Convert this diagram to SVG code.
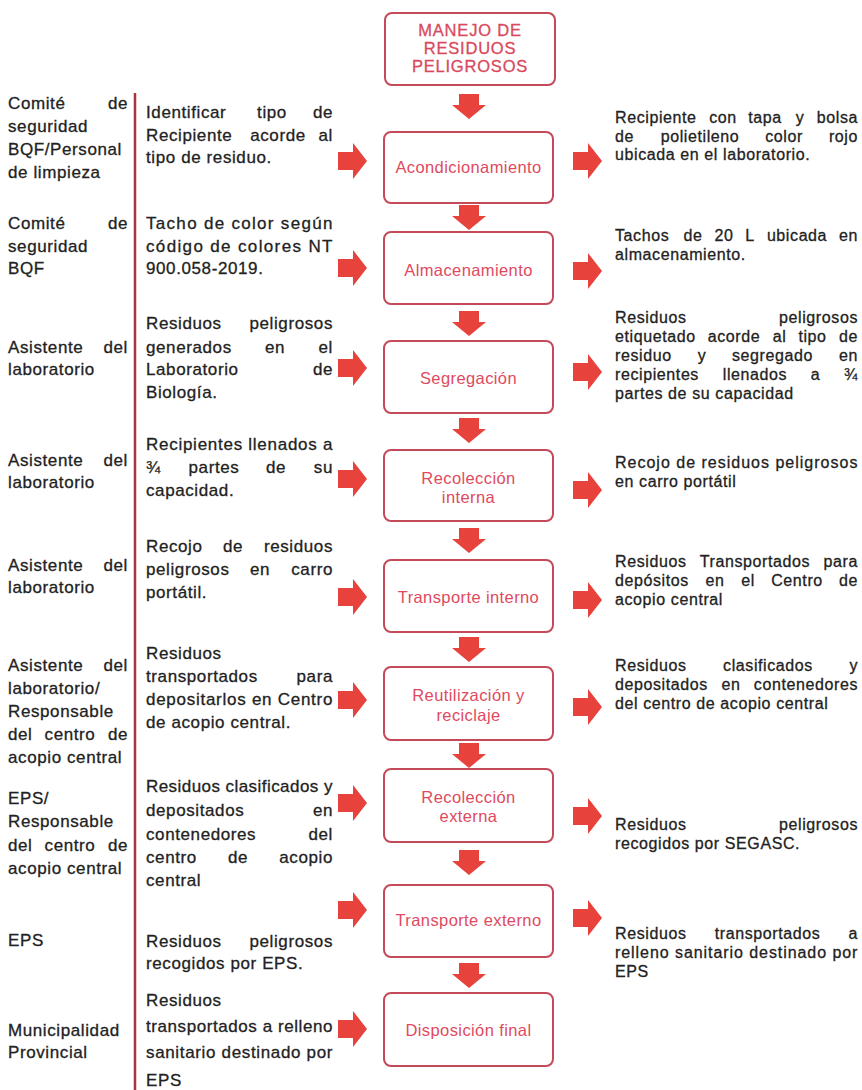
<svg xmlns="http://www.w3.org/2000/svg" xmlns:xlink="http://www.w3.org/1999/xlink" width="862" height="1090" viewBox="0 0 862 1090">
  <style>
    .box { fill: #ffffff; stroke: #c44a5a; stroke-width: 2; }
    .lbl { font-family: 'Liberation Sans', Arial, sans-serif; font-size: 16.5px; fill: #e04a5e; text-anchor: middle; letter-spacing: 0.4px; }
    .ttl { font-family: 'Liberation Sans', Arial, sans-serif; font-size: 16.5px; fill: #d9485c; text-anchor: middle; letter-spacing: 0.8px; stroke: #d9485c; stroke-width: 0.3px; }
    .t { font-family: 'Liberation Sans', Arial, sans-serif; font-size: 17px; fill: #222222; letter-spacing: 0.6px; stroke: #222222; stroke-width: 0.3px; }
    .r { font-family: 'Liberation Sans', Arial, sans-serif; font-size: 16px; fill: #222222; letter-spacing: 0.6px; stroke: #222222; stroke-width: 0.3px; }
    .e { text-anchor: end; }
    .m { text-anchor: middle; }
    .arr { fill: #e8423c; }
    .div { stroke: #a8323f; stroke-width: 2.5; }
  </style>
  <defs>
    <!-- block arrow pointing right, origin at tail centre -->
    <path id="ah" d="M0,-9 H15 V-18 L29,0 L15,18 V9 H0 Z"/>
    <!-- block arrow pointing down, origin at tail centre -->
    <path id="av" d="M-10,0 H10 V11 H17 L0,25 L-17,11 H-10 Z"/>
  </defs>

  <rect width="862" height="1090" fill="#ffffff"/>

  <!-- column divider -->
  <line class="div" x1="135" y1="93" x2="135" y2="1090"/>

  <!-- process nodes -->
  <g id="node-manejo">
    <rect class="box" x="385" y="13" width="170" height="72" rx="7"/>
    <text class="ttl" x="470" y="36">MANEJO DE</text>
    <text class="ttl" x="470" y="54">RESIDUOS</text>
    <text class="ttl" x="470" y="72">PELIGROSOS</text>
  </g>
  <g id="node-acondicionamiento">
    <rect class="box" x="384" y="132" width="169" height="71" rx="7"/>
    <text class="lbl" x="468.5" y="173">Acondicionamiento</text>
  </g>
  <g id="node-almacenamiento">
    <rect class="box" x="384" y="232" width="169" height="72" rx="7"/>
    <text class="lbl" x="468.5" y="276">Almacenamiento</text>
  </g>
  <g id="node-segregacion">
    <rect class="box" x="384" y="341" width="169" height="72" rx="7"/>
    <text class="lbl" x="468.5" y="384">Segregación</text>
  </g>
  <g id="node-recoleccion-interna">
    <rect class="box" x="384" y="450" width="169" height="71" rx="7"/>
    <text class="lbl" x="468.5" y="484">Recolección</text>
    <text class="lbl" x="468.5" y="503">interna</text>
  </g>
  <g id="node-transporte-interno">
    <rect class="box" x="384" y="560" width="169" height="72" rx="7"/>
    <text class="lbl" x="468.5" y="603">Transporte interno</text>
  </g>
  <g id="node-reutilizacion">
    <rect class="box" x="384" y="667" width="169" height="73" rx="7"/>
    <text class="lbl" x="468.5" y="701">Reutilización y</text>
    <text class="lbl" x="468.5" y="721">reciclaje</text>
  </g>
  <g id="node-recoleccion-externa">
    <rect class="box" x="384" y="769" width="169" height="73" rx="7"/>
    <text class="lbl" x="468.5" y="803">Recolección</text>
    <text class="lbl" x="468.5" y="822">externa</text>
  </g>
  <g id="node-transporte-externo">
    <rect class="box" x="384" y="885" width="169" height="72" rx="7"/>
    <text class="lbl" x="468.5" y="926">Transporte externo</text>
  </g>
  <g id="node-disposicion-final">
    <rect class="box" x="384" y="993" width="169" height="73" rx="7"/>
    <text class="lbl" x="468.5" y="1036">Disposición final</text>
  </g>

  <!-- connectors -->
  <g id="connectors" class="arr">
    <use xlink:href="#av" x="469" y="94"/>
    <use xlink:href="#av" x="469" y="205"/>
    <use xlink:href="#av" x="469" y="311"/>
    <use xlink:href="#av" x="469" y="418"/>
    <use xlink:href="#av" x="469" y="528"/>
    <use xlink:href="#av" x="469" y="637"/>
    <use xlink:href="#av" x="469" y="743"/>
    <use xlink:href="#av" x="469" y="850"/>
    <use xlink:href="#av" x="469" y="963"/>

    <use xlink:href="#ah" x="338" y="161"/>
    <use xlink:href="#ah" x="338" y="268"/>
    <use xlink:href="#ah" x="338" y="368"/>
    <use xlink:href="#ah" x="338" y="479"/>
    <use xlink:href="#ah" x="338" y="597"/>
    <use xlink:href="#ah" x="338" y="700"/>
    <use xlink:href="#ah" x="338" y="803"/>
    <use xlink:href="#ah" x="338" y="910"/>
    <use xlink:href="#ah" x="338" y="1029"/>

    <use xlink:href="#ah" x="573" y="161"/>
    <use xlink:href="#ah" x="573" y="271"/>
    <use xlink:href="#ah" x="573" y="372"/>
    <use xlink:href="#ah" x="573" y="490"/>
    <use xlink:href="#ah" x="573" y="600"/>
    <use xlink:href="#ah" x="573" y="707"/>
    <use xlink:href="#ah" x="573" y="816"/>
    <use xlink:href="#ah" x="573" y="918"/>
  </g>

  <!-- responsible parties -->
  <g id="responsables">
    <text class="t" x="8" y="109">Comité</text><text class="t e" x="128" y="109">de</text>
    <text class="t" x="8" y="132">seguridad</text>
    <text class="t" x="8" y="155">BQF/Personal</text>
    <text class="t" x="8" y="178">de limpieza</text>

    <text class="t" x="8" y="229">Comité</text><text class="t e" x="128" y="229">de</text>
    <text class="t" x="8" y="252">seguridad</text>
    <text class="t" x="8" y="274">BQF</text>

    <text class="t" x="8" y="353">Asistente</text><text class="t e" x="128" y="353">del</text>
    <text class="t" x="8" y="375">laboratorio</text>

    <text class="t" x="8" y="466">Asistente</text><text class="t e" x="128" y="466">del</text>
    <text class="t" x="8" y="488">laboratorio</text>

    <text class="t" x="8" y="571">Asistente</text><text class="t e" x="128" y="571">del</text>
    <text class="t" x="8" y="593">laboratorio</text>

    <text class="t" x="8" y="671">Asistente</text><text class="t e" x="128" y="671">del</text>
    <text class="t" x="8" y="694">laboratorio/</text>
    <text class="t" x="8" y="717">Responsable</text>
    <text class="t" x="8" y="740">del</text><text class="t m" x="70" y="740">centro</text><text class="t e" x="128" y="740">de</text>
    <text class="t" x="8" y="763">acopio central</text>

    <text class="t" x="8" y="804">EPS/</text>
    <text class="t" x="8" y="827">Responsable</text>
    <text class="t" x="8" y="851">del</text><text class="t m" x="70" y="851">centro</text><text class="t e" x="128" y="851">de</text>
    <text class="t" x="8" y="874">acopio central</text>

    <text class="t" x="8" y="946">EPS</text>

    <text class="t" x="8" y="1036">Municipalidad</text>
    <text class="t" x="8" y="1058">Provincial</text>
  </g>

  <!-- activities -->
  <g id="actividades">
    <text class="t" x="146" y="118">Identificar</text><text class="t m" x="272" y="118">tipo</text><text class="t e" x="333" y="118">de</text>
    <text class="t" x="146" y="141">Recipiente</text><text class="t m" x="278" y="141">acorde</text><text class="t e" x="333" y="141">al</text>
    <text class="t" x="146" y="163">tipo de residuo.</text>

    <text class="t" x="146" y="229" textLength="187" lengthAdjust="spacing">Tacho de color según</text>
    <text class="t" x="146" y="252" textLength="187" lengthAdjust="spacing">código de colores NT</text>
    <text class="t" x="146" y="274">900.058-2019.</text>

    <text class="t" x="146" y="329">Residuos</text><text class="t e" x="333" y="329">peligrosos</text>
    <text class="t" x="146" y="353">generados</text><text class="t m" x="275" y="353">en</text><text class="t e" x="333" y="353">el</text>
    <text class="t" x="146" y="375">Laboratorio</text><text class="t e" x="333" y="375">de</text>
    <text class="t" x="146" y="398">Biología.</text>

    <text class="t" x="146" y="450" textLength="187" lengthAdjust="spacing">Recipientes llenados a</text>
    <text class="t" x="146" y="473">¾</text><text class="t m" x="214" y="473">partes</text><text class="t m" x="276" y="473">de</text><text class="t e" x="333" y="473">su</text>
    <text class="t" x="146" y="496">capacidad.</text>

    <text class="t" x="146" y="552">Recojo</text><text class="t m" x="233" y="552">de</text><text class="t e" x="333" y="552">residuos</text>
    <text class="t" x="146" y="575">peligrosos</text><text class="t m" x="260" y="575">en</text><text class="t e" x="333" y="575">carro</text>
    <text class="t" x="146" y="598">portátil.</text>

    <text class="t" x="146" y="659">Residuos</text>
    <text class="t" x="146" y="682">transportados</text><text class="t e" x="333" y="682">para</text>
    <text class="t" x="146" y="705" textLength="187" lengthAdjust="spacing">depositarlos en Centro</text>
    <text class="t" x="146" y="728">de acopio central.</text>

    <text class="t" x="146" y="792" textLength="187" lengthAdjust="spacing">Residuos clasificados y</text>
    <text class="t" x="146" y="816">depositados</text><text class="t e" x="333" y="816">en</text>
    <text class="t" x="146" y="840">contenedores</text><text class="t e" x="333" y="840">del</text>
    <text class="t" x="146" y="863">centro</text><text class="t m" x="238" y="863">de</text><text class="t e" x="333" y="863">acopio</text>
    <text class="t" x="146" y="886">central</text>

    <text class="t" x="146" y="947">Residuos</text><text class="t e" x="333" y="947">peligrosos</text>
    <text class="t" x="146" y="969">recogidos por EPS.</text>

    <text class="t" x="146" y="1006">Residuos</text>
    <text class="t" x="146" y="1032" textLength="187" lengthAdjust="spacing">transportados a relleno</text>
    <text class="t" x="146" y="1058" textLength="187" lengthAdjust="spacing">sanitario destinado por</text>
    <text class="t" x="146" y="1086">EPS</text>
  </g>

  <!-- results -->
  <g id="resultados">
    <text class="r" x="615" y="123">Recipiente</text><text class="r m" x="723" y="123">con</text><text class="r m" x="765" y="123">tapa</text><text class="r m" x="800" y="123">y</text><text class="r e" x="858" y="123">bolsa</text>
    <text class="r" x="615" y="142">de</text><text class="r m" x="700" y="142">polietileno</text><text class="r m" x="784" y="142">color</text><text class="r e" x="858" y="142">rojo</text>
    <text class="r" x="615" y="160">ubicada en el laboratorio.</text>

    <text class="r" x="615" y="241">Tachos</text><text class="r m" x="693" y="241">de</text><text class="r m" x="724" y="241">20</text><text class="r m" x="750" y="241">L</text><text class="r m" x="797" y="241">ubicada</text><text class="r e" x="858" y="241">en</text>
    <text class="r" x="615" y="260">almacenamiento.</text>

    <text class="r" x="615" y="323">Residuos</text><text class="r e" x="858" y="323">peligrosos</text>
    <text class="r" x="615" y="342">etiquetado</text><text class="r m" x="734" y="342">acorde</text><text class="r m" x="779.5" y="342">al</text><text class="r m" x="812.5" y="342">tipo</text><text class="r e" x="858" y="342">de</text>
    <text class="r" x="615" y="361">residuo</text><text class="r m" x="702" y="361">y</text><text class="r m" x="772.5" y="361">segregado</text><text class="r e" x="858" y="361">en</text>
    <text class="r" x="615" y="380">recipientes</text><text class="r m" x="755" y="380">llenados</text><text class="r m" x="815.5" y="380">a</text><text class="r e" x="858" y="380">¾</text>
    <text class="r" x="615" y="399">partes de su capacidad</text>

    <text class="r" x="615" y="468" textLength="243" lengthAdjust="spacing">Recojo de residuos peligrosos</text>
    <text class="r" x="615" y="487">en carro portátil</text>

    <text class="r" x="615" y="567">Residuos</text><text class="r m" x="755" y="567">Transportados</text><text class="r e" x="858" y="567">para</text>
    <text class="r" x="615" y="586">depósitos</text><text class="r m" x="715" y="586">en</text><text class="r m" x="748" y="586">el</text><text class="r m" x="797" y="586">Centro</text><text class="r e" x="858" y="586">de</text>
    <text class="r" x="615" y="605">acopio central</text>

    <text class="r" x="615" y="671">Residuos</text><text class="r m" x="768" y="671">clasificados</text><text class="r e" x="858" y="671">y</text>
    <text class="r" x="615" y="690">depositados</text><text class="r m" x="731" y="690">en</text><text class="r e" x="858" y="690">contenedores</text>
    <text class="r" x="615" y="709">del centro de acopio central</text>

    <text class="r" x="615" y="830">Residuos</text><text class="r e" x="858" y="830">peligrosos</text>
    <text class="r" x="615" y="849">recogidos por SEGASC.</text>

    <text class="r" x="615" y="939">Residuos</text><text class="r m" x="767.5" y="939">transportados</text><text class="r e" x="858" y="939">a</text>
    <text class="r" x="615" y="958" textLength="243" lengthAdjust="spacing">relleno sanitario destinado por</text>
    <text class="r" x="615" y="977">EPS</text>
  </g>
</svg>
